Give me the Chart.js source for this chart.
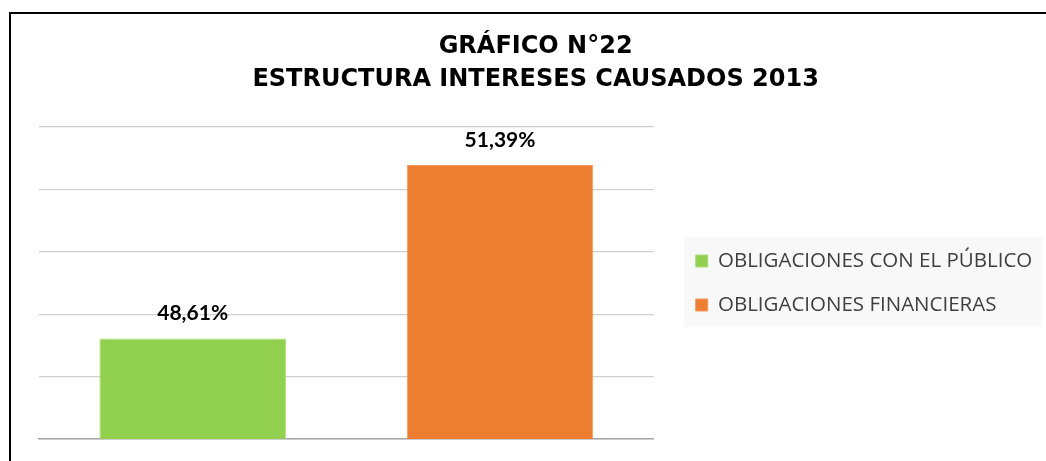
<!DOCTYPE html>
<html>
<head>
<meta charset="utf-8">
<script src="https://cdn.jsdelivr.net/npm/chart.js@4/dist/chart.umd.min.js"></script>
<style>
  html, body { margin: 0; padding: 0; background: #fff; overflow: hidden; }
  #frame { position: absolute; left: 9px; top: 12px; border-left: 2px solid #000; border-top: 2px solid #000; width: 1049px; height: 447px; }
  #wrap { position: relative; width: 1049px; height: 447px; }
</style>
</head>
<body>
<div id="frame"><div id="wrap"><canvas id="c"></canvas></div></div>
<script>
const titleLines = ["GRÁFICO N°22", "ESTRUCTURA INTERESES CAUSADOS 2013"];
const categories = ["OBLIGACIONES CON EL PÚBLICO", "OBLIGACIONES FINANCIERAS"];
const values = [48.61, 51.39];
const barColors = ["#92D050", "#ED7D31"];
const barEdgeColors = ["#A9DC7B", "#F29A5E"];
const axisMin = 47;
const axisMax = 52;
const axisStep = 1;

function fmt(v) { return v.toFixed(2).replace('.', ',') + '%'; }

const legendBg = {
  id: 'legendBg',
  beforeDraw(chart) {
    const lg = chart.legend;
    if (!lg || !lg.legendHitBoxes || !lg.legendHitBoxes.length) return;
    const ctx = chart.ctx;
    const boxes = lg.legendHitBoxes;
    const first = boxes[0];
    const last = boxes[boxes.length - 1];
    const top = first.top + first.height / 2 - 24;
    const bottom = last.top + last.height / 2 + 22;
    const left = first.left - 12;
    ctx.save();
    ctx.fillStyle = '#F8F8F8';
    ctx.fillRect(left, top, 1031 - left, bottom - top);
    ctx.restore();
  }
};

const valueLabels = {
  id: 'valueLabels',
  afterDatasetsDraw(chart) {
    const ctx = chart.ctx;
    const meta = chart.getDatasetMeta(0);
    ctx.save();
    ctx.font = 'bold 21px Lato, "Open Sans", sans-serif';
    ctx.fillStyle = '#000';
    ctx.textAlign = 'center';
    ctx.textBaseline = 'middle';
    meta.data.forEach((bar, i) => {
      ctx.fillText(fmt(values[i]), bar.x, bar.y - 25);
    });
    ctx.restore();
  }
};

new Chart(document.getElementById('c'), {
  type: 'bar',
  data: {
    labels: categories,
    datasets: [{
      data: values,
      backgroundColor: barColors,
      borderColor: barEdgeColors,
      borderWidth: 1,
      barPercentage: 0.607,
      categoryPercentage: 1.0,
      yAxisID: 'y'
    }]
  },
  options: {
    responsive: true,
    maintainAspectRatio: false,
    animation: false,
    layout: { padding: { left: 18, right: 17.75, bottom: 14, top: 0 } },
    plugins: {
      title: {
        display: true,
        text: titleLines,
        color: '#000',
        font: { family: '"DejaVu Sans", "Liberation Sans", sans-serif', size: 24, weight: 'bold', lineHeight: 1.375 },
        padding: { top: 16.5, bottom: 30.5 }
      },
      legend: {
        display: true,
        position: 'right',
        align: 'center',
        fullSize: false,
        maxWidth: 400,
        labels: {
          boxWidth: 12,
          boxHeight: 12,
          padding: 23.5,
          color: '#404040',
          font: { family: '"Open Sans", sans-serif', size: 20.5 },
          generateLabels(chart) {
            return categories.map((c, i) => ({
              text: c,
              fillStyle: barColors[i],
              strokeStyle: barEdgeColors[i],
              lineWidth: 1,
              fontColor: '#404040',
              index: i,
              datasetIndex: 0
            }));
          }
        }
      },
      tooltip: { enabled: false }
    },
    scales: {
      x: {
        grid: { display: false },
        ticks: { display: false },
        border: { display: true, color: '#A6A6A6', width: 1.5 }
      },
      y: {
        min: axisMin,
        max: axisMax,
        ticks: { display: false, stepSize: axisStep },
        grid: { color: '#D0D0D0', lineWidth: 1.2, drawTicks: false },
        border: { display: false },
        afterFit(scale) { scale.width = 10; }
      },
      gap: {
        type: 'linear',
        position: 'right',
        display: true,
        min: axisMin,
        max: axisMax,
        grid: { display: false, drawTicks: false },
        ticks: { display: false },
        border: { display: false },
        afterFit(scale) { scale.width = 18.5; }
      }
    }
  },
  plugins: [legendBg, valueLabels]
});
</script>
</body>
</html>
